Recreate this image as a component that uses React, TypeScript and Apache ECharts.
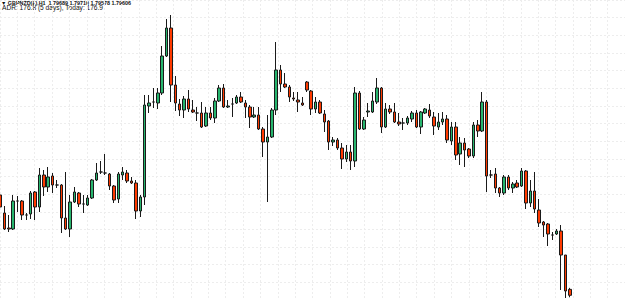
import React, { useEffect, useRef } from "react";
import * as echarts from "echarts";

// GBPNZD H1 candles (oldest -> newest)
const open = [
  1.81010, 1.80758, 1.80548, 1.80534, 1.80926, 1.80926, 1.80730, 1.80744, 1.81052, 1.80842,
  1.81290, 1.81122, 1.81276, 1.81150, 1.81150, 1.80688, 1.80534, 1.80912, 1.81038, 1.80884,
  1.80870, 1.80968, 1.81220, 1.81332, 1.81318, 1.81304, 1.81136, 1.80954, 1.81290, 1.81318,
  1.81206, 1.81178, 1.80786, 1.80982, 1.82256, 1.82312, 1.82298, 1.82438, 1.82956, 1.83348,
  1.82550, 1.82284, 1.82200, 1.82354, 1.82200, 1.82158, 1.82158, 1.81976, 1.82158, 1.82088,
  1.82326, 1.82508, 1.82242, 1.82284, 1.82298, 1.82382, 1.82298, 1.82242, 1.82102, 1.82130,
  1.81934, 1.81752, 1.81822, 1.82200, 1.82760, 1.82564, 1.82522, 1.82368, 1.82340, 1.82298,
  1.82592, 1.82466, 1.82214, 1.82312, 1.82144, 1.82046, 1.81752, 1.81780, 1.81668, 1.81514,
  1.81612, 1.81486, 1.82438, 1.81934, 1.82172, 1.82172, 1.82312, 1.82508, 1.81962, 1.82214,
  1.82172, 1.82032, 1.82018, 1.82018, 1.82074, 1.82158, 1.81962, 1.82158, 1.82200, 1.82102,
  1.81962, 1.82032, 1.82074, 1.81766, 1.81962, 1.81584, 1.81738, 1.81654, 1.81556, 1.81990,
  1.81906, 1.82312, 1.81290, 1.81304, 1.81108, 1.81038, 1.81262, 1.81108, 1.81178, 1.81136,
  1.81346, 1.80898, 1.81066, 1.80800, 1.80632, 1.80604, 1.80450, 1.80464, 1.80506, 1.80170,
  1.79689,
];
const close = [
  1.80842, 1.80534, 1.80534, 1.80926, 1.80926, 1.80730, 1.80730, 1.81038, 1.80842, 1.81290,
  1.81122, 1.81262, 1.81150, 1.81150, 1.80688, 1.80534, 1.80912, 1.81052, 1.80884, 1.80884,
  1.80968, 1.81220, 1.81318, 1.81332, 1.81318, 1.81136, 1.80940, 1.81304, 1.81332, 1.81206,
  1.81178, 1.80786, 1.80982, 1.82270, 1.82298, 1.82312, 1.82438, 1.82956, 1.83348, 1.82550,
  1.82298, 1.82200, 1.82354, 1.82214, 1.82172, 1.82158, 1.81962, 1.82158, 1.82088, 1.82326,
  1.82508, 1.82242, 1.82256, 1.82284, 1.82382, 1.82312, 1.82242, 1.82102, 1.82130, 1.81934,
  1.81752, 1.81822, 1.82200, 1.82760, 1.82564, 1.82522, 1.82382, 1.82354, 1.82312, 1.82270,
  1.82480, 1.82214, 1.82312, 1.82158, 1.82032, 1.81752, 1.81780, 1.81668, 1.81514, 1.81612,
  1.81486, 1.82438, 1.81934, 1.82060, 1.82186, 1.82326, 1.82508, 1.81962, 1.82214, 1.82172,
  1.82032, 1.82004, 1.82018, 1.82088, 1.82158, 1.81962, 1.82172, 1.82214, 1.82116, 1.81976,
  1.82032, 1.82074, 1.81780, 1.81962, 1.81570, 1.81738, 1.81640, 1.81556, 1.81990, 1.81906,
  1.82312, 1.81276, 1.81290, 1.81108, 1.81038, 1.81262, 1.81108, 1.81164, 1.81122, 1.81346,
  1.80898, 1.81066, 1.80814, 1.80618, 1.80590, 1.80464, 1.80450, 1.80506, 1.80170, 1.79666,
  1.79606,
];
const low = [
  1.80814, 1.80520, 1.80492, 1.80520, 1.80772, 1.80660, 1.80660, 1.80674, 1.80660, 1.80772,
  1.80996, 1.81052, 1.81038, 1.81108, 1.80478, 1.80520, 1.80422, 1.80898, 1.80842, 1.80758,
  1.80856, 1.80954, 1.81206, 1.81304, 1.81290, 1.81080, 1.80898, 1.80898, 1.81220, 1.81178,
  1.81164, 1.80674, 1.80702, 1.80870, 1.82158, 1.82228, 1.82214, 1.82410, 1.82942, 1.82312,
  1.82186, 1.82116, 1.82088, 1.82172, 1.82158, 1.82046, 1.81948, 1.81962, 1.82060, 1.82018,
  1.82312, 1.82228, 1.82228, 1.82102, 1.82284, 1.82298, 1.82088, 1.81948, 1.82088, 1.81920,
  1.81542, 1.80912, 1.81808, 1.82130, 1.82452, 1.82508, 1.82312, 1.82326, 1.82172, 1.82256,
  1.82452, 1.82130, 1.82158, 1.82144, 1.81892, 1.81640, 1.81696, 1.81640, 1.81374, 1.81472,
  1.81360, 1.81402, 1.81920, 1.81920, 1.82102, 1.82158, 1.82284, 1.81878, 1.81948, 1.82144,
  1.82018, 1.81976, 1.81920, 1.81990, 1.82032, 1.81948, 1.81864, 1.82144, 1.82088, 1.81850,
  1.81920, 1.81990, 1.81738, 1.81710, 1.81500, 1.81430, 1.81402, 1.81528, 1.81528, 1.81822,
  1.81892, 1.81052, 1.81248, 1.81038, 1.80982, 1.81010, 1.81080, 1.81038, 1.81108, 1.81122,
  1.80814, 1.80842, 1.80758, 1.80562, 1.80422, 1.80296, 1.80380, 1.80450, 1.79680, 1.79568,
  1.79578,
];
const high = [
  1.81038, 1.80856, 1.80730, 1.81010, 1.80996, 1.80940, 1.80758, 1.81066, 1.81066, 1.81388,
  1.81360, 1.81402, 1.81318, 1.81220, 1.81164, 1.81332, 1.81010, 1.81122, 1.81052, 1.81010,
  1.81010, 1.81234, 1.81458, 1.81486, 1.81584, 1.81318, 1.81150, 1.81332, 1.81402, 1.81360,
  1.81262, 1.81220, 1.81010, 1.82410, 1.82410, 1.82508, 1.82508, 1.83096, 1.83474, 1.83530,
  1.82676, 1.82354, 1.82396, 1.82480, 1.82340, 1.82242, 1.82312, 1.82242, 1.82242, 1.82368,
  1.82550, 1.82564, 1.82340, 1.82368, 1.82410, 1.82452, 1.82340, 1.82270, 1.82242, 1.82242,
  1.81962, 1.82130, 1.82228, 1.83152, 1.82830, 1.82718, 1.82550, 1.82452, 1.82452, 1.82382,
  1.82606, 1.82480, 1.82382, 1.82340, 1.82200, 1.82060, 1.81822, 1.81808, 1.81738, 1.81710,
  1.81710, 1.82522, 1.82466, 1.82102, 1.82298, 1.82452, 1.82648, 1.82522, 1.82298, 1.82270,
  1.82298, 1.82158, 1.82088, 1.82116, 1.82186, 1.82200, 1.82186, 1.82228, 1.82284, 1.82172,
  1.82158, 1.82172, 1.82130, 1.82032, 1.82032, 1.81822, 1.81808, 1.81668, 1.82032, 1.82060,
  1.82452, 1.82340, 1.81360, 1.81388, 1.81122, 1.81290, 1.81290, 1.81192, 1.81220, 1.81388,
  1.81360, 1.81220, 1.81332, 1.80954, 1.80646, 1.80618, 1.80492, 1.80534, 1.80590, 1.80170,
  1.79710,
];

// empty bar slots to the right of the last candle (chart shift area)
const futureSlots = 12;
const categories = Array.from({ length: open.length + futureSlots }, (_, i) => "H" + i);

const headerLine1 = "\u25BC GBPNZD(\u00A3),H1  1.79689 1.79710 1.79578 1.79606";
const headerLine2 = "ADR: 176.8 (5 days), Today: 176.9";

const priceMin = 1.7954;
const priceMax = 1.8374;

export default function App() {
  const ref = useRef<HTMLDivElement>(null);

  useEffect(() => {
    document.body.style.margin = "0";
    const chart = echarts.init(ref.current!, null, { renderer: "svg" });
    const data = open.map((o, i) => [o, close[i], low[i], high[i]]);
    const gridLine = {
      show: true,
      lineStyle: { color: "#ededed", width: 1, type: [2, 2] as any },
    };
    chart.setOption({
      animation: false,
      backgroundColor: "#ffffff",
      grid: [
        { left: -0.85, top: -2.09, width: 631.8, height: 307.53, show: false },
        { left: -0.4, top: 0, width: 622.8, height: 300, show: false },
      ],
      xAxis: [
        {
          type: "value",
          gridIndex: 0,
          min: 0,
          max: 36,
          interval: 1,
          axisLine: { show: false },
          axisTick: { show: false },
          axisLabel: { show: false },
          splitLine: gridLine,
        },
        {
          type: "category",
          gridIndex: 1,
          data: categories,
          boundaryGap: false,
          show: false,
        },
      ],
      yAxis: [
        {
          type: "value",
          gridIndex: 0,
          min: 0,
          max: 17,
          interval: 1,
          axisLine: { show: false },
          axisTick: { show: false },
          axisLabel: { show: false },
          splitLine: gridLine,
        },
        {
          type: "value",
          gridIndex: 1,
          min: priceMin,
          max: priceMax,
          show: false,
        },
      ],
      series: [
        {
          type: "candlestick",
          xAxisIndex: 1,
          yAxisIndex: 1,
          data,
          barWidth: 3,
          itemStyle: {
            color: "#27b56e",
            color0: "#ff3a00",
            borderColor: "#1a1a1a",
            borderColor0: "#1a1a1a",
            borderWidth: 1,
          },
        },
      ],
      graphic: [
        {
          type: "text",
          x: 1,
          y: 0,
          style: {
            text: headerLine1,
            fontFamily: "Arial, 'Liberation Sans', sans-serif",
            fontSize: 5.4,
            fontWeight: "bold",
            fill: "#111111",
            verticalAlign: "top",
          },
        },
        {
          type: "text",
          x: 2,
          y: 4,
          style: {
            text: headerLine2,
            fontFamily: "Arial, 'Liberation Sans', sans-serif",
            fontSize: 6.6,
            fill: "#111111",
            verticalAlign: "top",
          },
        },
      ],
    });
    return () => chart.dispose();
  }, []);

  return <div ref={ref} style={{ width: 625, height: 300 }} />;
}
